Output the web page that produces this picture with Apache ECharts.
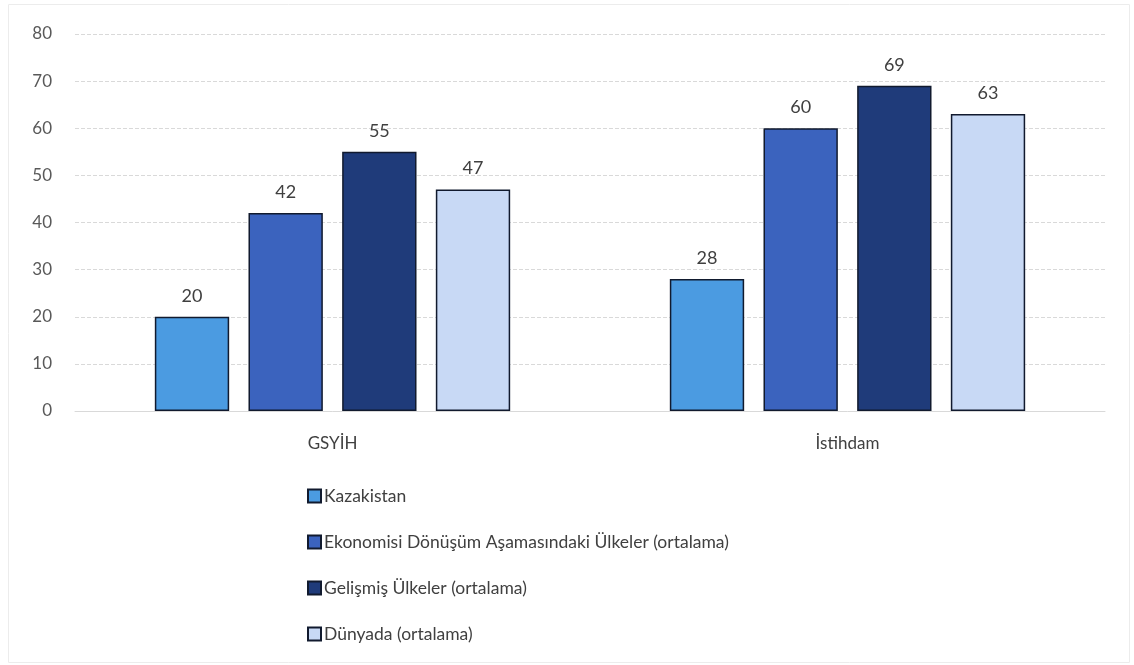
<!DOCTYPE html>
<html><head><meta charset="utf-8">
<script src="https://cdn.jsdelivr.net/npm/echarts@6/dist/echarts.min.js"></script>
<style>html,body{margin:0;padding:0;background:#fff}#c{width:1134px;height:665px}</style>
</head><body><div id="c"></div>
<script>
const categories = ['GSYİH', 'İstihdam'];
const seriesNames = ['Kazakistan', 'Ekonomisi Dönüşüm Aşamasındaki Ülkeler (ortalama)', 'Gelişmiş Ülkeler (ortalama)', 'Dünyada (ortalama)'];
const kazakistan = [20, 28];
const ekonomisi = [42, 60];
const gelismis = [55, 69];
const dunyada = [47, 63];
const yTicks = [0, 10, 20, 30, 40, 50, 60, 70, 80];
const colors = ['#4b9be1', '#3b63be', '#1f3b7a', '#c8d9f5'];
const values = [kazakistan, ekonomisi, gelismis, dunyada];
const font = 'Lato, Liberation Sans, sans-serif';
const chart = echarts.init(document.getElementById('c'));
chart.setOption({
  animation: false,
  graphic: [{type: 'rect', shape: {x: 8.5, y: 4.5, width: 1121, height: 658},
    style: {fill: 'none', stroke: '#ececec', lineWidth: 1}, silent: true}],
  grid: {left: 75, right: 29, top: 34, bottom: 254, containLabel: false},
  legend: {
    orient: 'vertical', left: 302, top: 482, itemGap: 28, itemWidth: 13, itemHeight: 13,
    icon: 'rect', data: seriesNames,
    textStyle: {fontFamily: font, fontSize: 17.5, color: '#404040', padding: [0,0,0,-2]}
  },
  xAxis: {
    type: 'category', data: categories,
    axisLine: {show: true, lineStyle: {color: '#d9d9d9'}}, axisTick: {show: false},
    axisLabel: {fontFamily: font, fontSize: 17, color: '#404040', margin: 24}
  },
  yAxis: {
    type: 'value', min: 0, max: 80, interval: 10,
    axisLine: {show: false}, axisTick: {show: false},
    axisLabel: {fontFamily: font, fontSize: 17, color: '#595959', margin: 23,
      formatter: v => yTicks.includes(v) ? String(v) : ''},
    splitLine: {lineStyle: {color: '#d9d9d9', type: 'dashed', width: 1}}
  },
  series: values.map((d, i) => ({
    name: seriesNames[i], type: 'bar', data: d,
    barGap: '26%', barCategoryGap: '31%',
    itemStyle: {color: colors[i], borderColor: '#111a2e', borderWidth: 1.5},
    label: {show: true, position: 'top', distance: 12, fontFamily: font, fontSize: 18, color: '#404040'}
  }))
});
</script></body></html>
